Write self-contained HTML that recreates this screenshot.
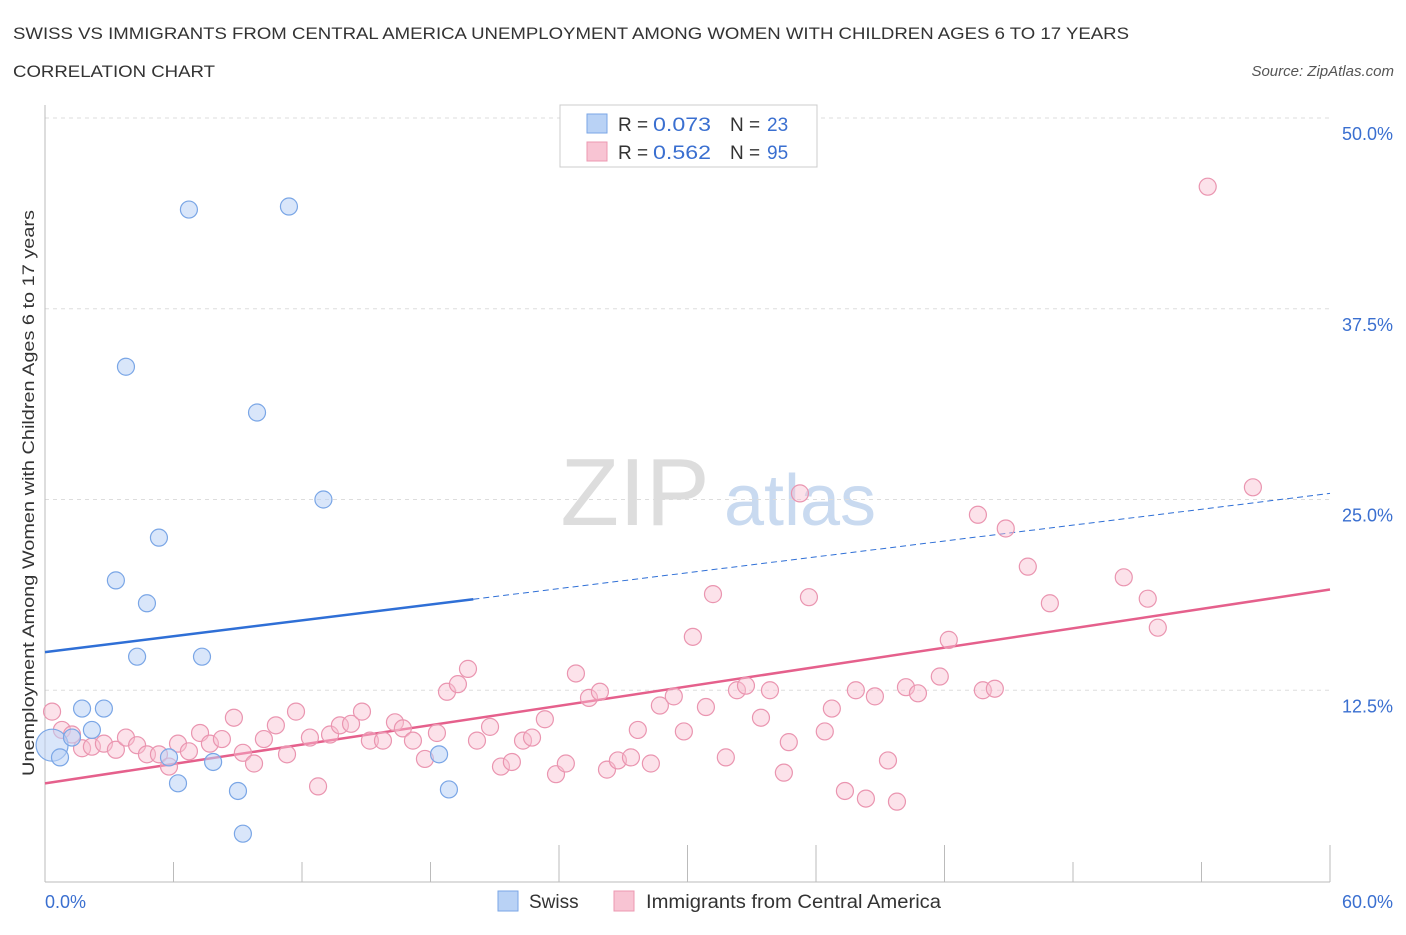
<!DOCTYPE html>
<html><head><meta charset="utf-8"><style>
body{margin:0;background:#fff;font-family:"Liberation Sans",sans-serif;}
svg text{font-family:"Liberation Sans",sans-serif;}
</style></head><body>
<svg id="chart" width="1406" height="930" xmlns="http://www.w3.org/2000/svg">
<text x="13" y="39" font-size="17" fill="#333" textLength="1116" lengthAdjust="spacingAndGlyphs">SWISS VS IMMIGRANTS FROM CENTRAL AMERICA UNEMPLOYMENT AMONG WOMEN WITH CHILDREN AGES 6 TO 17 YEARS</text>
<text x="13" y="77" font-size="17" fill="#333" textLength="202" lengthAdjust="spacingAndGlyphs">CORRELATION CHART</text>
<text x="1394" y="76" font-size="15" fill="#555" text-anchor="end" font-style="italic">Source: ZipAtlas.com</text>
<text x="635" y="525" font-size="96" fill="#ddd" text-anchor="middle" font-family="Liberation Serif, serif">ZIP</text>
<text x="800" y="525" font-size="72" fill="#c9daf0" text-anchor="middle">atlas</text>
<g id="grid"></g>
<line x1="45" y1="105" x2="45" y2="882" stroke="#bbb"/>
<line x1="45" y1="882" x2="1330" y2="882" stroke="#bbb"/>
<g id="ticks"></g>
<text transform="translate(34,493) rotate(-90)" font-size="17" fill="#333" text-anchor="middle" textLength="566" lengthAdjust="spacingAndGlyphs">Unemployment Among Women with Children Ages 6 to 17 years</text>
<text x="45" y="908" font-size="18" fill="#3a6fd0">0.0%</text>
<text x="1393" y="908" font-size="18" fill="#3a6fd0" text-anchor="end">60.0%</text>
<g id="trends"></g>
<g id="points"></g>
<g>
<rect x="560" y="105" width="257" height="62" fill="#fff" stroke="#ccc"/>
<rect x="587" y="114" width="20" height="19" fill="#b9d2f5" stroke="#7aa6e6"/>
<rect x="587" y="142" width="20" height="19" fill="#f8c4d3" stroke="#ec98b2"/>
<text x="618" y="131" font-size="19" fill="#333">R =</text>
<text x="653" y="131" font-size="19" fill="#3a6fd0" textLength="58" lengthAdjust="spacingAndGlyphs">0.073</text>
<text x="730" y="131" font-size="19" fill="#333">N =</text>
<text x="767" y="131" font-size="19" fill="#3a6fd0">23</text>
<text x="618" y="159" font-size="19" fill="#333">R =</text>
<text x="653" y="159" font-size="19" fill="#3a6fd0" textLength="58" lengthAdjust="spacingAndGlyphs">0.562</text>
<text x="730" y="159" font-size="19" fill="#333">N =</text>
<text x="767" y="159" font-size="19" fill="#3a6fd0">95</text>
</g>
<g>
<rect x="498" y="891" width="20" height="20" fill="#b9d2f5" stroke="#7aa6e6"/>
<text x="529" y="908" font-size="19" fill="#333">Swiss</text>
<rect x="614" y="891" width="20" height="20" fill="#f8c4d3" stroke="#ec98b2"/>
<text x="646" y="908" font-size="19" fill="#333" textLength="295" lengthAdjust="spacingAndGlyphs">Immigrants from Central America</text>
</g>
</svg>
<script>
const yTicks=[12.5,25,37.5,50];
const yTickLabels=["12.5%","25.0%","37.5%","50.0%"];
const xTicks=[0,6,12,18,24,30,36,42,48,54,60];
const swissX=[0.33,0.7,1.26,1.73,2.19,2.75,3.31,3.78,4.3,4.76,5.32,5.79,6.21,6.72,7.33,7.85,9.01,9.24,9.9,11.39,13.0,18.4,18.86];
const swissY=[8.9,8.1,9.4,11.3,9.9,11.3,19.7,33.7,14.7,18.2,22.5,8.1,6.4,44.0,14.7,7.8,5.9,3.1,30.7,44.2,25.0,8.3,6.0];
const immX=[0.33,0.79,1.26,1.73,2.19,2.75,3.31,3.78,4.30,4.76,5.32,5.79,6.21,6.72,7.24,7.70,8.26,8.82,9.24,9.76,10.22,10.78,11.30,11.72,12.37,12.75,13.31,13.77,14.29,14.80,15.17,15.78,16.34,16.71,17.18,17.74,18.30,18.77,19.28,19.75,20.17,20.78,21.29,21.80,22.32,22.74,23.34,23.86,24.32,24.79,25.40,25.91,26.24,26.75,27.36,27.68,28.29,28.71,29.36,29.83,30.25,30.86,31.19,31.79,32.31,32.73,33.43,33.85,34.50,34.73,35.25,35.67,36.41,36.74,37.35,37.86,38.33,38.75,39.36,39.78,40.20,40.76,41.78,42.20,43.56,43.79,44.35,44.86,45.89,46.92,50.37,51.49,51.96,54.29,56.40];
const immY=[11.1,9.9,9.6,8.7,8.8,9.0,8.6,9.4,8.9,8.3,8.3,7.5,9.0,8.5,9.7,9.0,9.3,10.7,8.4,7.7,9.3,10.2,8.3,11.1,9.4,6.2,9.6,10.2,10.3,11.1,9.2,9.2,10.4,10.0,9.2,8.0,9.7,12.4,12.9,13.9,9.2,10.1,7.5,7.8,9.2,9.4,10.6,7.0,7.7,13.6,12.0,12.4,7.3,7.9,8.1,9.9,7.7,11.5,12.1,9.8,16.0,11.4,18.8,8.1,12.5,12.8,10.7,12.5,7.1,9.1,25.4,18.6,9.8,11.3,5.9,12.5,5.4,12.1,7.9,5.2,12.7,12.3,13.4,15.8,24.0,12.5,12.6,23.1,20.6,18.2,19.9,18.5,16.6,45.5,25.8];
const swissTrend=[15.0,25.4];
const immTrend=[6.4,19.1];
const NS="http://www.w3.org/2000/svg";
const X=v=>45+v*(1285/60), Y=v=>881-v*(763/50);
function mk(tag,attrs,parent){const e=document.createElementNS(NS,tag);for(const k in attrs)e.setAttribute(k,attrs[k]);parent.appendChild(e);return e;}
const grid=document.getElementById('grid'),ticks=document.getElementById('ticks'),trends=document.getElementById('trends'),pts=document.getElementById('points');
yTicks.forEach((t,i)=>{
 const l=mk('line',{x1:45,x2:1330,y1:Y(t),y2:Y(t),stroke:'#ddd','stroke-dasharray':'4,4'},grid);
 
 
 const tx=mk('text',{x:1393,y:Y(t)+22,'font-size':18,fill:'#3a6fd0','text-anchor':'end'},grid);
 tx.textContent=yTickLabels[i];
 
 
});
xTicks.forEach((t,i)=>{
 const long=(i>=4&&i<=7)||i===10;
 const l=mk('line',{x1:X(t),x2:X(t),y1:long?845:862,y2:882,stroke:'#bbb'},ticks);
 
 
});
const xs=X(20);
let b1=mk('line',{x1:X(0),y1:Y(swissTrend[0]),x2:xs,y2:Y(swissTrend[0]+(swissTrend[1]-swissTrend[0])*20/60),stroke:'#2f6fd6','stroke-width':2.5},trends);


let b2=mk('line',{x1:xs,y1:Y(swissTrend[0]+(swissTrend[1]-swissTrend[0])*20/60),x2:X(60),y2:Y(swissTrend[1]),stroke:'#2f6fd6','stroke-width':1,'stroke-dasharray':'6,4'},trends);


let p1=mk('line',{x1:X(0),y1:Y(immTrend[0]),x2:X(60),y2:Y(immTrend[1]),stroke:'#e5608c','stroke-width':2.5},trends);


immX.forEach((x,i)=>{
 const c=mk('circle',{cx:X(x),cy:Y(immY[i]),r:8.5,fill:'rgba(248,190,208,0.45)',stroke:'#ea95b0','stroke-width':1.2},pts);
 
 
});
swissX.forEach((x,i)=>{
 const c=mk('circle',{cx:X(x),cy:Y(swissY[i]),r:i===0?16:8.5,fill:'rgba(185,210,245,0.55)',stroke:'#7aa6e6','stroke-width':1.2},pts);
 
 
});
</script>
</body></html>
